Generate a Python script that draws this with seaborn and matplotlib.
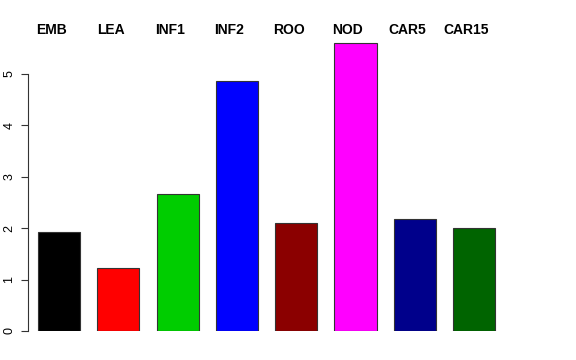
import seaborn as sns
import matplotlib.pyplot as plt
import pandas as pd

tissues = ["EMB", "LEA", "INF1", "INF2", "ROO", "NOD", "CAR5", "CAR15"]
values = [1.93, 1.23, 2.67, 4.87, 2.11, 5.60, 2.18, 2.00]
colors = ["#000000", "#FF0000", "#00CD00", "#0000FF", "#8B0000", "#FF00FF", "#00008B", "#006400"]

df = pd.DataFrame({"tissue": tissues, "value": values})

sns.set_style("white")
plt.rcParams['font.family'] = ['Liberation Sans', 'DejaVu Sans']
plt.rcParams['text.color'] = 'black'
plt.rcParams['ytick.color'] = 'black'

fig = plt.figure(figsize=(5.76, 3.6), dpi=100)
# axes placed in pixel terms to mimic the R layout
x0, x1 = -0.523, 7.5
px_per_unit = 59.3
left_px = 28
width_px = (x1 - x0) * px_per_unit
ymax = 5.7
ax = fig.add_axes([left_px / 576, 29 / 360, width_px / 576, ymax * 51.4 / 360])

sns.barplot(ax=ax, data=df, x="tissue", y="value", hue="tissue",
            palette=colors, width=0.71, edgecolor="#333333", linewidth=0.8,
            legend=False, saturation=1)

ax.set_xlim(x0, x1)
ax.set_ylim(0, ymax)
ax.set_xticks([])
ax.set_xlabel("")
ax.set_ylabel("")
ax.set_yticks([0, 1, 2, 3, 4, 5])
ax.set_yticklabels(["0", "1", "2", "3", "4", "5"], rotation=90, va="center", fontsize=9)
ax.tick_params(axis="y", length=5, width=0.8, pad=4, color="#333333", labelcolor="black", left=True)
for s in ["top", "right", "bottom"]:
    ax.spines[s].set_visible(False)
ax.spines["left"].set_bounds(0, 5)
ax.spines["left"].set_color("#333333")
ax.spines["left"].set_linewidth(0.8)

for i, t in enumerate(tissues):
    ax.text(i - 0.13, 1 - (30 - (360 - 29 - ymax * 51.4)) / (ymax * 51.4), t,
            transform=ax.get_xaxis_transform(), ha="center", va="center",
            fontsize=10, fontweight="bold", color="black", clip_on=False)

plt.savefig("out.png", dpi=100)
